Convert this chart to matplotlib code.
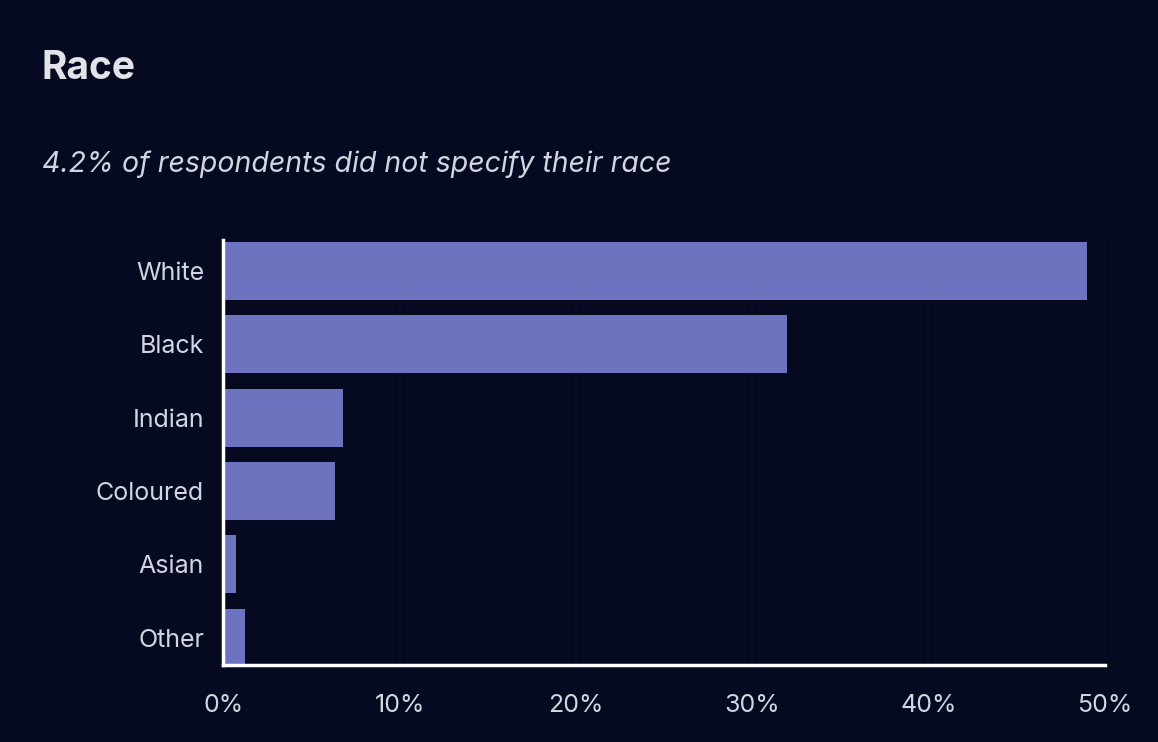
import matplotlib.pyplot as plt
from matplotlib.ticker import FuncFormatter

categories = ["White", "Black", "Indian", "Coloured", "Asian", "Other"]
values = [49.0, 32.0, 6.8, 6.3, 0.7, 1.2]
x_ticks = [0, 10, 20, 30, 40, 50]

bg = "#050a20"
bar_color = "#6d73bf"
text_color = "#d3d5e2"

plt.rcParams['font.family'] = ['Inter', 'DejaVu Sans']

fig = plt.figure(figsize=(11.58, 7.42), dpi=100, facecolor=bg)
ax = fig.add_axes([0.193, 0.1038, 0.761, 0.5728], facecolor=bg)

ypos = list(range(len(categories)))
ax.barh(ypos, values, height=0.79, color=bar_color, zorder=2)

ax.set_xlim(0, 50)
ax.set_ylim(5.37, -0.42)
ax.set_yticks(ypos)
ax.set_yticklabels(categories)
ax.set_xticks(x_ticks)
ax.xaxis.set_major_formatter(FuncFormatter(lambda v, p: f"{v:.0f}%"))

ax.grid(axis="x", color="#090d25", linewidth=1.5, zorder=0)
ax.tick_params(axis="both", length=0, colors=text_color, labelsize=18)
ax.tick_params(axis="y", pad=14)
ax.tick_params(axis="x", pad=21)

for side in ["top", "right"]:
    ax.spines[side].set_visible(False)
for side in ["left", "bottom"]:
    ax.spines[side].set_color("white")
    ax.spines[side].set_linewidth(2.5)
    ax.spines[side].set_zorder(3)

fig.text(42 / 1158, 1 - 79 / 742, "Race", fontsize=28, fontweight="bold",
         color="#e2e2e8", ha="left", va="baseline")
fig.text(42 / 1158, 1 - 172 / 742, "4.2% of respondents did not specify their race",
         fontsize=20.5, style="italic", color=text_color, ha="left", va="baseline")

fig.savefig("out.png", dpi=100, facecolor=bg)
